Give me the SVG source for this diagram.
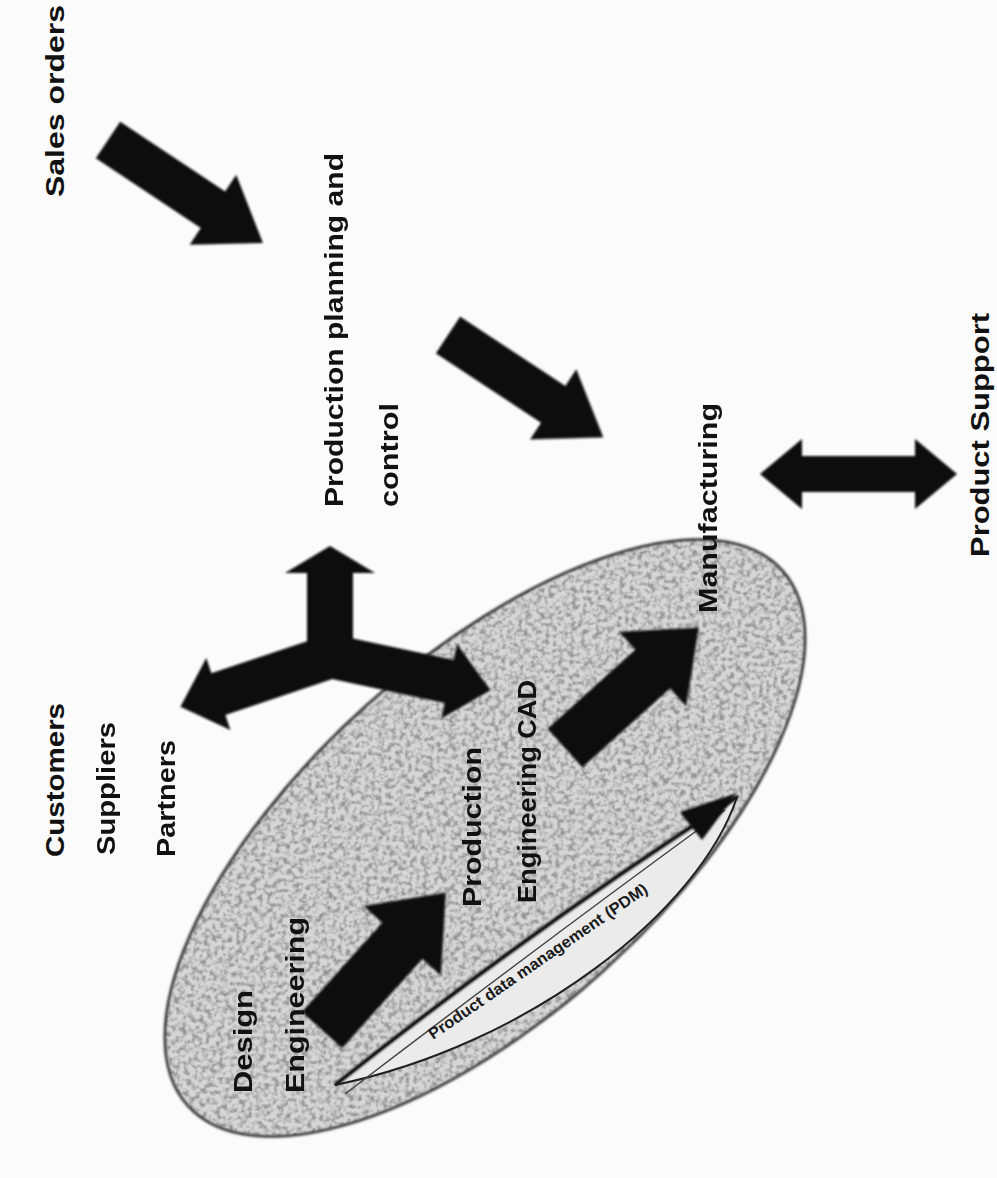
<svg xmlns="http://www.w3.org/2000/svg" width="997" height="1178" viewBox="0 0 997 1178">
<style>
.t{font-family:"Liberation Sans",Arial,sans-serif;font-weight:bold;font-size:25px;fill:#111}
.bt{font-family:"Liberation Sans",Arial,sans-serif;font-weight:bold;font-size:16px;fill:#1a1a1a}
.arr{fill:#0c0c0c}
</style>
<defs>
<filter id="grain" x="0" y="0" width="100%" height="100%">
<feTurbulence type="fractalNoise" baseFrequency="0.2" numOctaves="2" seed="7" result="n"/>
<feColorMatrix in="n" type="matrix" values="0 0 0 0 0.3  0 0 0 0 0.3  0 0 0 0 0.3  3 0 0 0 -1.25"/>
<feComposite in2="SourceGraphic" operator="in"/>
</filter>
<filter id="soft" x="-10%" y="-10%" width="120%" height="120%">
<feGaussianBlur stdDeviation="1.3"/>
</filter>
</defs>
<rect width="997" height="1178" fill="#fbfbfb"/>

<g id="region">
<ellipse cx="485" cy="838" rx="400" ry="178" transform="rotate(-42 485 838)" fill="#d6d6d6"/>
<ellipse cx="485" cy="838" rx="400" ry="178" transform="rotate(-42 485 838)" fill="#000" filter="url(#grain)"/>
<ellipse cx="485" cy="838" rx="400" ry="178" transform="rotate(-42 485 838)" fill="none" stroke="#2a2a2a" stroke-width="2.5" filter="url(#soft)"/>
</g>

<g id="band">
<path d="M335,1085 Q530,930 737,797 C700,910 530,1045 335,1085 Z" fill="#ebebeb" stroke="#222" stroke-width="2"/>
<path d="M345,1094 Q540,945 725,810" fill="none" stroke="#444" stroke-width="1.5"/>
<path d="M335,1085 Q530,930 737,797" fill="none" stroke="#1a1a1a" stroke-width="4" filter="url(#soft)"/>
<polygon points="737,793 680,812 702,840" fill="#111" filter="url(#soft)"/>
<text class="bt" transform="translate(433,1040) rotate(-34.5)" textLength="262" lengthAdjust="spacingAndGlyphs">Product data management (PDM)</text>
</g>

<g id="connectors" filter="url(#soft)">
<path class="arr" transform="translate(108,140) rotate(33.6)" d="M0,-22 L126,-22 L126,-42 L186,0 L126,42 L126,22 L0,22 Z"/>
<path class="arr" transform="translate(448,335) rotate(33.4)" d="M0,-22 L126,-22 L126,-42 L186,0 L126,42 L126,22 L0,22 Z"/>
<path class="arr" d="M760,474 L802,439 L802,456 L915,456 L915,439 L957,474 L915,509 L915,492 L802,492 L802,509 Z"/>
<path class="arr" d="M307,668 L307,573 L285,573 L330,546 L375,573 L353,573 L353,668 Z"/>
<path class="arr" transform="translate(335,655) rotate(161.5)" d="M0,-22 L123,-22 L123,-38 L163,0 L123,38 L123,22 L0,22 Z"/>
<path class="arr" transform="translate(325,655) rotate(12)" d="M0,-22 L127,-22 L127,-38 L169,0 L127,38 L127,22 L0,22 Z"/>
<path class="arr" transform="translate(322,1030) rotate(-48)" d="M0,-27 L120,-27 L120,-52 L185,0 L120,52 L120,27 L0,27 Z"/>
<path class="arr" transform="translate(565,748) rotate(-42)" d="M0,-26 L118,-26 L118,-50 L180,0 L118,50 L118,26 L0,26 Z"/>
</g>

<g id="sales">
<text class="t" transform="translate(64,197) rotate(-90)" textLength="192" lengthAdjust="spacingAndGlyphs">Sales orders</text>
</g>
<g id="ppc">
<text class="t" transform="translate(343,507) rotate(-90)" textLength="354" lengthAdjust="spacingAndGlyphs">Production planning and</text>
<text class="t" transform="translate(398,507) rotate(-90)" textLength="104" lengthAdjust="spacingAndGlyphs">control</text>
</g>
<g id="manufacturing">
<text class="t" transform="translate(717,613) rotate(-90)" textLength="210" lengthAdjust="spacingAndGlyphs">Manufacturing</text>
</g>
<g id="support">
<text class="t" transform="translate(989,557) rotate(-90)" textLength="244" lengthAdjust="spacingAndGlyphs">Product Support</text>
</g>
<g id="partners">
<text class="t" transform="translate(64,857) rotate(-90)" textLength="154" lengthAdjust="spacingAndGlyphs">Customers</text>
<text class="t" transform="translate(115,855) rotate(-90)" textLength="133" lengthAdjust="spacingAndGlyphs">Suppliers</text>
<text class="t" transform="translate(175,857) rotate(-90)" textLength="117" lengthAdjust="spacingAndGlyphs">Partners</text>
</g>
<g id="design">
<text class="t" transform="translate(252,1093) rotate(-90)" textLength="103" lengthAdjust="spacingAndGlyphs">Design</text>
<text class="t" transform="translate(304,1093) rotate(-90)" textLength="176" lengthAdjust="spacingAndGlyphs">Engineering</text>
</g>
<g id="prodeng">
<text class="t" transform="translate(481,907) rotate(-90)" textLength="160" lengthAdjust="spacingAndGlyphs">Production</text>
<text class="t" transform="translate(536,903) rotate(-90)" textLength="223" lengthAdjust="spacingAndGlyphs">Engineering CAD</text>
</g>
</svg>
